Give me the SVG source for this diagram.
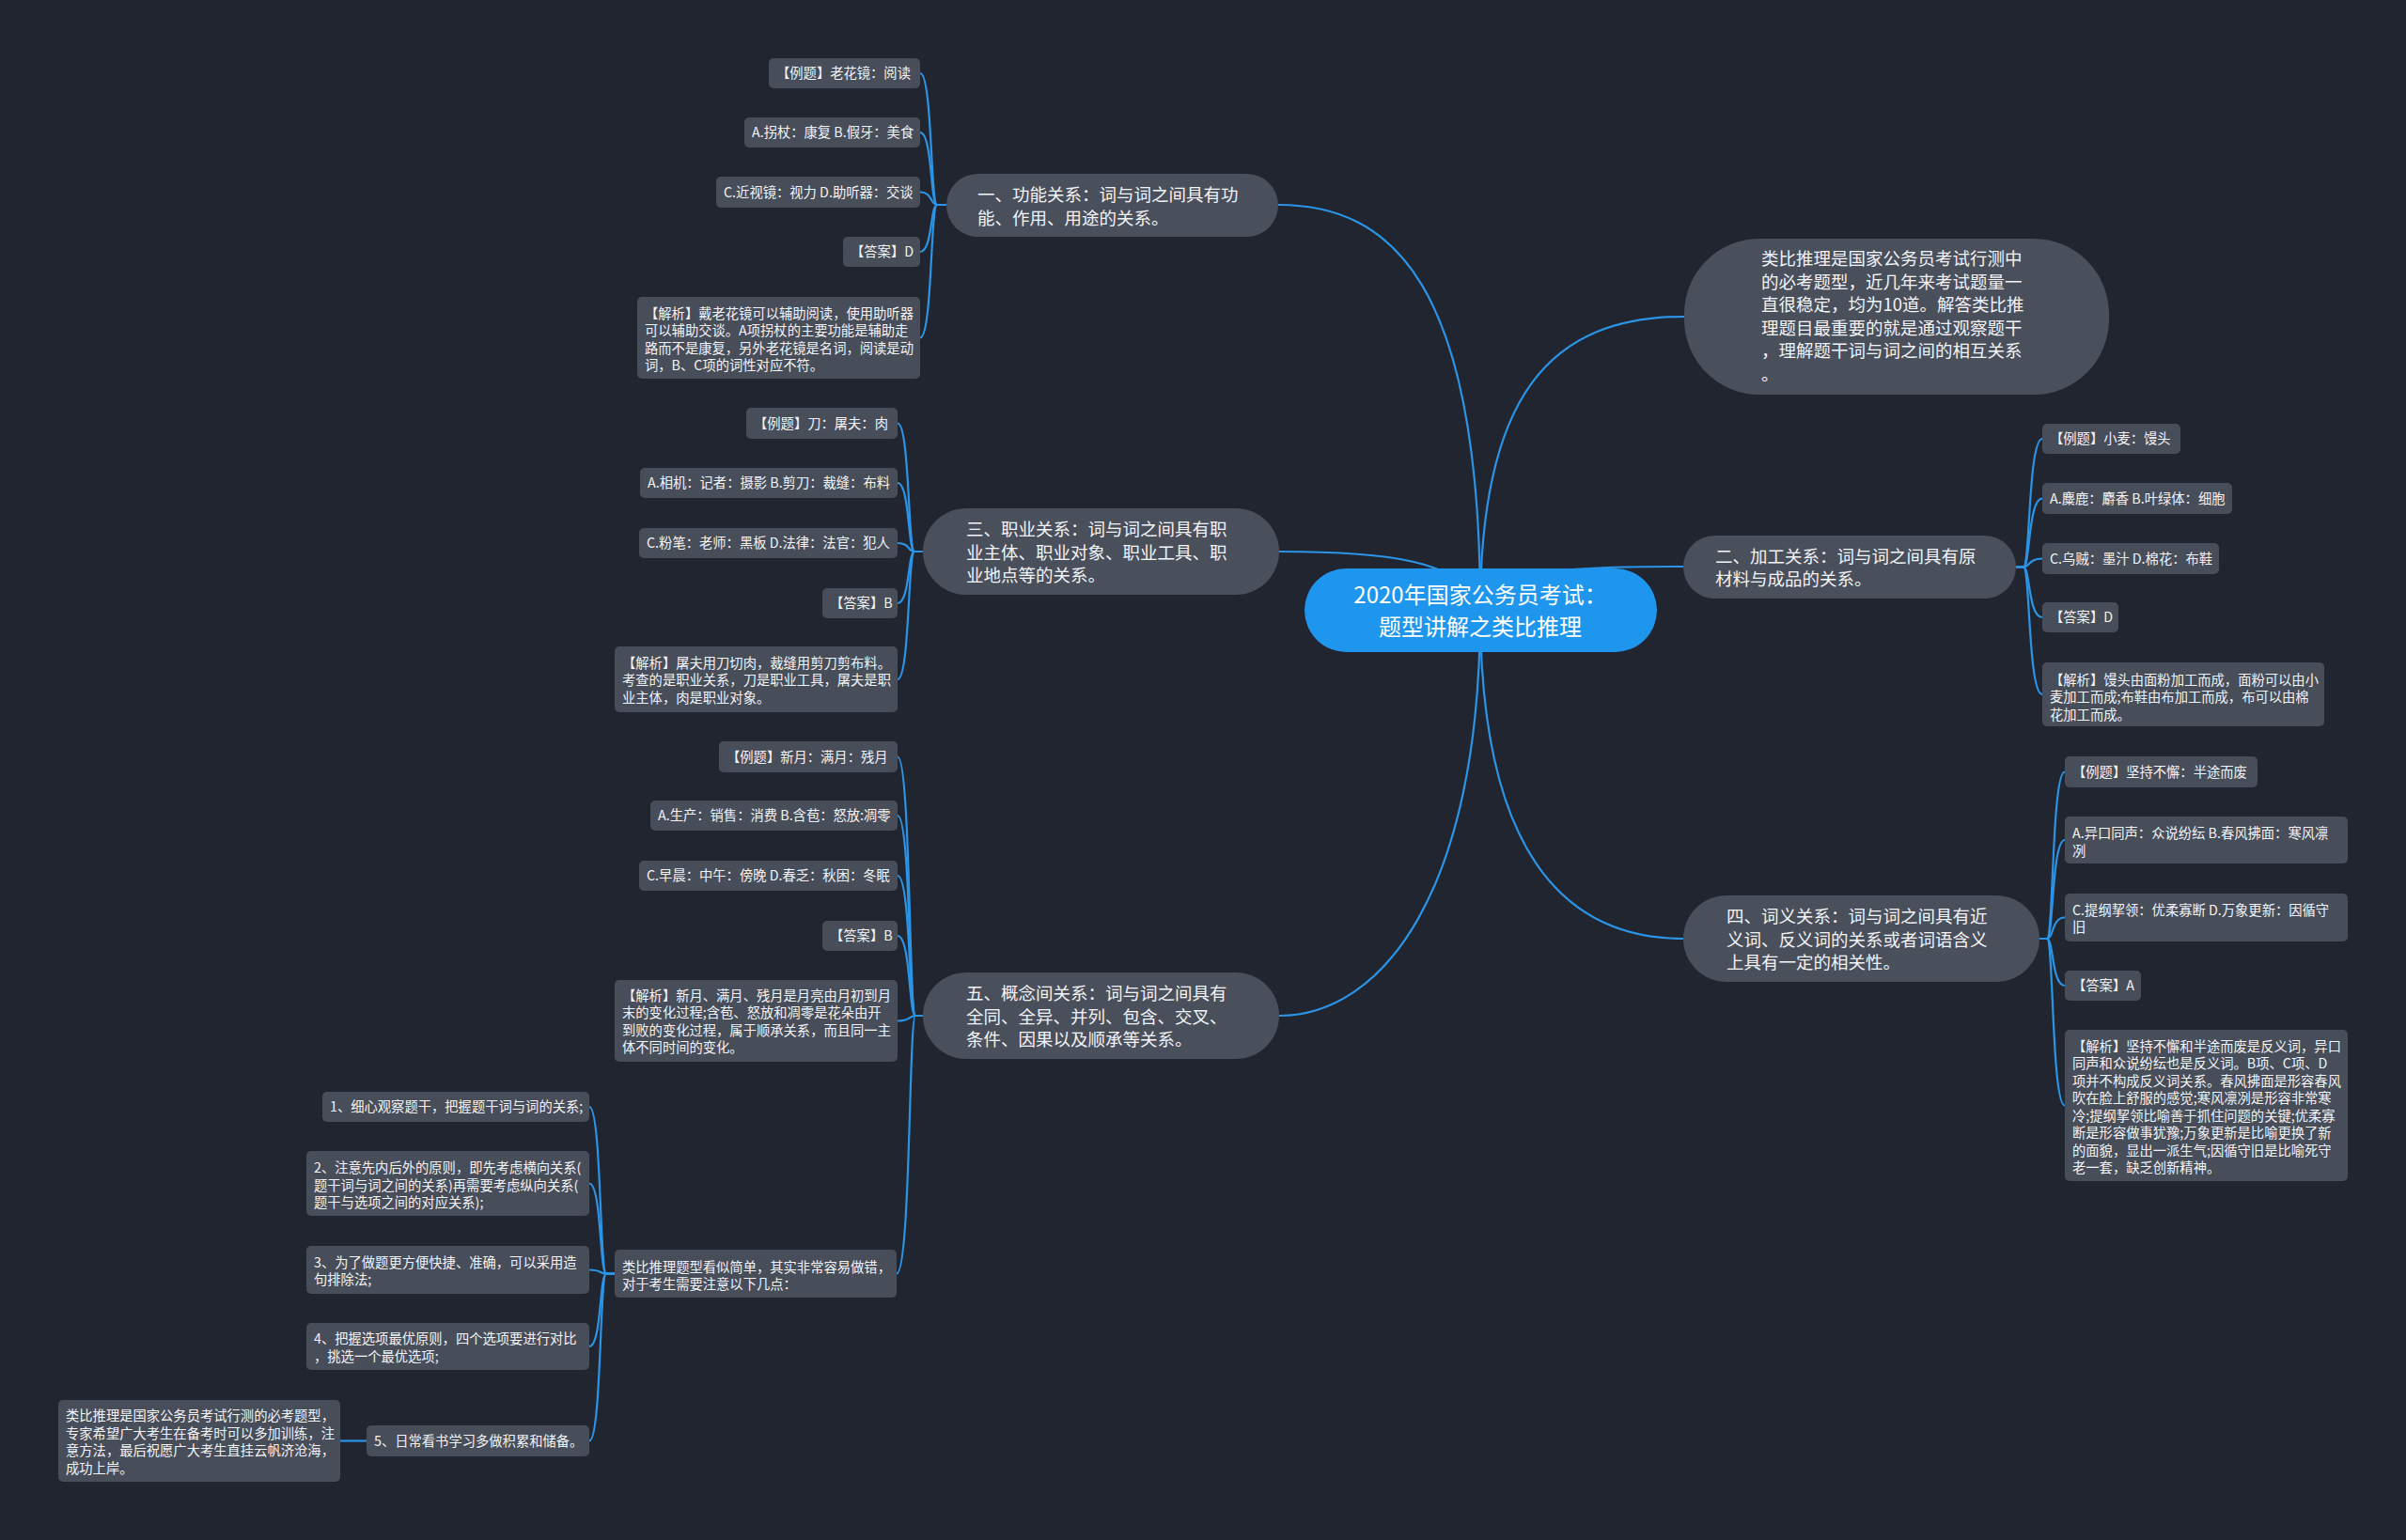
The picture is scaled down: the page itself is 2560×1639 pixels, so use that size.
<svg xmlns="http://www.w3.org/2000/svg" width="2560" height="1639" viewBox="0 0 2560 1639">
<style>
.n{fill:#4a4f5c}
.lf{fill:#484d5a}
.c{fill:none;stroke:#2b94e6;stroke-width:2.2}
text{font-family:"Noto Sans CJK SC","Noto Sans",sans-serif;fill:#f2f4f7}
.t{font-size:18.5px}
.l{font-size:14.3px}
.r{font-size:24px;text-anchor:middle;fill:#ffffff}
</style>
<rect width="2560" height="1639" fill="#21252f"/>
<g id="connectors">
<path class="c" d="M1360 218 C1480 218 1575 300 1575 649"/>
<path class="c" d="M1361 587 C1470 587 1560 595 1575 649"/>
<path class="c" d="M1361 1081 C1470 1081 1575 950 1575 649"/>
<path class="c" d="M1792 337 C1650 337 1575 420 1575 649"/>
<path class="c" d="M1792 603 C1680 603 1575 605 1575 649"/>
<path class="c" d="M1791 999 C1660 999 1575 900 1575 649"/>
<!-- group 1 -->
<path class="c" d="M1007 218 L997 218 C990 218 992 78 979 78"/>
<path class="c" d="M1007 218 L997 218 C990 218 992 141 979 141"/>
<path class="c" d="M1007 218 L997 218 C990 218 992 204.5 979 204.5"/>
<path class="c" d="M1007 218 L997 218 C990 218 992 268 979 268"/>
<path class="c" d="M1007 218 L997 218 C990 218 992 359.5 979 359.5"/>
<!-- group 3 -->
<path class="c" d="M982 587 L973 587 C966 587 968 450.5 955 450.5"/>
<path class="c" d="M982 587 L973 587 C966 587 968 514 955 514"/>
<path class="c" d="M982 587 L973 587 C966 587 968 578 955 578"/>
<path class="c" d="M982 587 L973 587 C966 587 968 642 955 642"/>
<path class="c" d="M982 587 L973 587 C966 587 968 723 955 723"/>
<!-- group 5 -->
<path class="c" d="M982 1081 L974 1081 C967 1081 969 805.5 955 805.5"/>
<path class="c" d="M982 1081 L974 1081 C967 1081 969 868 955 868"/>
<path class="c" d="M982 1081 L974 1081 C967 1081 969 932 955 932"/>
<path class="c" d="M982 1081 L974 1081 C967 1081 969 996 955 996"/>
<path class="c" d="M982 1081 L974 1081 C967 1081 969 1086.5 955 1086.5"/>
<path class="c" d="M982 1081 L974 1081 C967 1081 969 1355.5 954 1355.5"/>
<!-- subgroup -->
<path class="c" d="M654 1355.5 L645 1355.5 C638 1355.5 640 1178 627 1178"/>
<path class="c" d="M654 1355.5 L645 1355.5 C638 1355.5 640 1259.5 627 1259.5"/>
<path class="c" d="M654 1355.5 L645 1355.5 C638 1355.5 640 1351.5 627 1351.5"/>
<path class="c" d="M654 1355.5 L645 1355.5 C638 1355.5 640 1433 627 1433"/>
<path class="c" d="M654 1355.5 L645 1355.5 C638 1355.5 640 1533.5 627 1533.5"/>
<path class="c" d="M390 1533.5 L362 1533.5"/>
<!-- group 2 -->
<path class="c" d="M2145 603.5 L2153 603.5 C2160 603.5 2158 467 2173 467"/>
<path class="c" d="M2145 603.5 L2153 603.5 C2160 603.5 2158 530.5 2173 530.5"/>
<path class="c" d="M2145 603.5 L2153 603.5 C2160 603.5 2158 594.5 2173 594.5"/>
<path class="c" d="M2145 603.5 L2153 603.5 C2160 603.5 2158 657 2173 657"/>
<path class="c" d="M2145 603.5 L2153 603.5 C2160 603.5 2158 739 2173 739"/>
<!-- group 4 -->
<path class="c" d="M2170 999 L2178 999 C2185 999 2183 821.5 2197 821.5"/>
<path class="c" d="M2170 999 L2178 999 C2185 999 2183 894 2197 894"/>
<path class="c" d="M2170 999 L2178 999 C2185 999 2183 976.5 2197 976.5"/>
<path class="c" d="M2170 999 L2178 999 C2185 999 2183 1049 2197 1049"/>
<path class="c" d="M2170 999 L2178 999 C2185 999 2183 1176.5 2197 1176.5"/>
</g>

<g id="root">
<rect x="1388" y="605" width="375" height="89" rx="44.5" fill="#1e96ee"/>
<text class="r" x="1575" y="642">2020年国家公务员考试：</text>
<text class="r" x="1575" y="676">题型讲解之类比推理</text>
</g>

<g id="intro">
<rect class="n" x="1792" y="254" width="452" height="166" rx="80"/>
<text class="t" x="1874" y="282">类比推理是国家公务员考试行测中</text>
<text class="t" x="1874" y="306.5">的必考题型，近几年来考试题量一</text>
<text class="t" x="1874" y="331">直很稳定，均为10道。解答类比推</text>
<text class="t" x="1874" y="355.5">理题目最重要的就是通过观察题干</text>
<text class="t" x="1874" y="380">，理解题干词与词之间的相互关系</text>
<text class="t" x="1874" y="404.5">。</text>
</g>

<g id="n1">
<rect class="n" x="1007" y="185" width="353" height="67" rx="33.5"/>
<text class="t" x="1040" y="214">一、功能关系：词与词之间具有功</text>
<text class="t" x="1040" y="238.5">能、作用、用途的关系。</text>
</g>
<g id="n1-1"><rect class="lf" x="818" y="62" width="161" height="32" rx="5"/><text class="l" x="826" y="83">【例题】老花镜：阅读</text></g>
<g id="n1-2"><rect class="lf" x="792" y="125" width="187" height="32" rx="5"/><text class="l" x="800" y="146">A.拐杖：康复 B.假牙：美食</text></g>
<g id="n1-3"><rect class="lf" x="762" y="188" width="217" height="33" rx="5"/><text class="l" x="770" y="209.5">C.近视镜：视力 D.助听器：交谈</text></g>
<g id="n1-4"><rect class="lf" x="897" y="252" width="82" height="32" rx="5"/><text class="l" x="905" y="273">【答案】D</text></g>
<g id="n1-5"><rect class="lf" x="678" y="316" width="301" height="87" rx="5"/>
<text class="l" x="686" y="338.5">【解析】戴老花镜可以辅助阅读，使用助听器</text>
<text class="l" x="686" y="357">可以辅助交谈。A项拐杖的主要功能是辅助走</text>
<text class="l" x="686" y="375.5">路而不是康复，另外老花镜是名词，阅读是动</text>
<text class="l" x="686" y="394">词，B、C项的词性对应不符。</text></g>

<g id="n3">
<rect class="n" x="982" y="541" width="379" height="92" rx="46"/>
<text class="t" x="1028" y="570">三、职业关系：词与词之间具有职</text>
<text class="t" x="1028" y="595">业主体、职业对象、职业工具、职</text>
<text class="t" x="1028" y="619">业地点等的关系。</text>
</g>
<g id="n3-1"><rect class="lf" x="794" y="434" width="161" height="33" rx="5"/><text class="l" x="802" y="455.5">【例题】刀：屠夫：肉</text></g>
<g id="n3-2"><rect class="lf" x="681" y="498" width="274" height="32" rx="5"/><text class="l" x="689" y="519">A.相机：记者：摄影 B.剪刀：裁缝：布料</text></g>
<g id="n3-3"><rect class="lf" x="680" y="562" width="275" height="32" rx="5"/><text class="l" x="688" y="583">C.粉笔：老师：黑板 D.法律：法官：犯人</text></g>
<g id="n3-4"><rect class="lf" x="875" y="626" width="80" height="32" rx="5"/><text class="l" x="883" y="647">【答案】B</text></g>
<g id="n3-5"><rect class="lf" x="654" y="688" width="301" height="70" rx="5"/>
<text class="l" x="662" y="710.5">【解析】屠夫用刀切肉，裁缝用剪刀剪布料。</text>
<text class="l" x="662" y="729">考查的是职业关系，刀是职业工具，屠夫是职</text>
<text class="l" x="662" y="747.5">业主体，肉是职业对象。</text></g>

<g id="n5">
<rect class="n" x="982" y="1035" width="379" height="92" rx="46"/>
<text class="t" x="1028" y="1064">五、概念间关系：词与词之间具有</text>
<text class="t" x="1028" y="1089">全同、全异、并列、包含、交叉、</text>
<text class="t" x="1028" y="1113">条件、因果以及顺承等关系。</text>
</g>
<g id="n5-1"><rect class="lf" x="765" y="789" width="190" height="33" rx="5"/><text class="l" x="773" y="810.5">【例题】新月：满月：残月</text></g>
<g id="n5-2"><rect class="lf" x="692" y="852" width="263" height="32" rx="5"/><text class="l" x="700" y="873">A.生产：销售：消费 B.含苞：怒放:凋零</text></g>
<g id="n5-3"><rect class="lf" x="680" y="916" width="275" height="32" rx="5"/><text class="l" x="688" y="937">C.早晨：中午：傍晚 D.春乏：秋困：冬眠</text></g>
<g id="n5-4"><rect class="lf" x="875" y="980" width="80" height="32" rx="5"/><text class="l" x="883" y="1001">【答案】B</text></g>
<g id="n5-5"><rect class="lf" x="654" y="1043" width="301" height="87" rx="5"/>
<text class="l" x="662" y="1064.5">【解析】新月、满月、残月是月亮由月初到月</text>
<text class="l" x="662" y="1083">末的变化过程;含苞、怒放和凋零是花朵由开</text>
<text class="l" x="662" y="1101.5">到败的变化过程，属于顺承关系，而且同一主</text>
<text class="l" x="662" y="1120">体不同时间的变化。</text></g>
<g id="n5-6"><rect class="lf" x="654" y="1330" width="300" height="51" rx="5"/>
<text class="l" x="662" y="1353.5">类比推理题型看似简单，其实非常容易做错，</text>
<text class="l" x="662" y="1372">对于考生需要注意以下几点：</text></g>

<g id="s1"><rect class="lf" x="343" y="1162" width="284" height="32" rx="5"/><text class="l" x="351" y="1183">1、细心观察题干，把握题干词与词的关系;</text></g>
<g id="s2"><rect class="lf" x="326" y="1225" width="301" height="69" rx="5"/>
<text class="l" x="334" y="1248">2、注意先内后外的原则，即先考虑横向关系(</text>
<text class="l" x="334" y="1266.5">题干词与词之间的关系)再需要考虑纵向关系(</text>
<text class="l" x="334" y="1285">题干与选项之间的对应关系);</text></g>
<g id="s3"><rect class="lf" x="326" y="1326" width="301" height="51" rx="5"/>
<text class="l" x="334" y="1348.5">3、为了做题更方便快捷、准确，可以采用造</text>
<text class="l" x="334" y="1367">句排除法;</text></g>
<g id="s4"><rect class="lf" x="326" y="1408" width="301" height="50" rx="5"/>
<text class="l" x="334" y="1430">4、把握选项最优原则，四个选项要进行对比</text>
<text class="l" x="334" y="1448.5">，挑选一个最优选项;</text></g>
<g id="s5"><rect class="lf" x="390" y="1517" width="237" height="33" rx="5"/><text class="l" x="398" y="1538.5">5、日常看书学习多做积累和储备。</text></g>
<g id="s5-1"><rect class="lf" x="62" y="1490" width="300" height="87" rx="5"/>
<text class="l" x="70" y="1512">类比推理是国家公务员考试行测的必考题型，</text>
<text class="l" x="70" y="1530.5">专家希望广大考生在备考时可以多加训练，注</text>
<text class="l" x="70" y="1549">意方法，最后祝愿广大考生直挂云帆济沧海，</text>
<text class="l" x="70" y="1567.5">成功上岸。</text></g>

<g id="n2">
<rect class="n" x="1791" y="570" width="354" height="67" rx="33.5"/>
<text class="t" x="1825" y="599">二、加工关系：词与词之间具有原</text>
<text class="t" x="1825" y="623">材料与成品的关系。</text>
</g>
<g id="n2-1"><rect class="lf" x="2173" y="451" width="147" height="32" rx="5"/><text class="l" x="2181" y="472">【例题】小麦：馒头</text></g>
<g id="n2-2"><rect class="lf" x="2173" y="514" width="202" height="33" rx="5"/><text class="l" x="2181" y="535.5">A.麋鹿：麝香 B.叶绿体：细胞</text></g>
<g id="n2-3"><rect class="lf" x="2173" y="578" width="188" height="33" rx="5"/><text class="l" x="2181" y="599.5">C.乌贼：墨汁 D.棉花：布鞋</text></g>
<g id="n2-4"><rect class="lf" x="2173" y="641" width="81" height="32" rx="5"/><text class="l" x="2181" y="662">【答案】D</text></g>
<g id="n2-5"><rect class="lf" x="2173" y="705" width="300" height="68" rx="5"/>
<text class="l" x="2181" y="728.5">【解析】馒头由面粉加工而成，面粉可以由小</text>
<text class="l" x="2181" y="747">麦加工而成;布鞋由布加工而成，布可以由棉</text>
<text class="l" x="2181" y="765.5">花加工而成。</text></g>

<g id="n4">
<rect class="n" x="1791" y="953" width="379" height="92" rx="46"/>
<text class="t" x="1837" y="982">四、词义关系：词与词之间具有近</text>
<text class="t" x="1837" y="1007">义词、反义词的关系或者词语含义</text>
<text class="t" x="1837" y="1031">上具有一定的相关性。</text>
</g>
<g id="n4-1"><rect class="lf" x="2197" y="805" width="205" height="33" rx="5"/><text class="l" x="2205" y="826.5">【例题】坚持不懈：半途而废</text></g>
<g id="n4-2"><rect class="lf" x="2197" y="869" width="301" height="50" rx="5"/>
<text class="l" x="2205" y="892">A.异口同声：众说纷纭 B.春风拂面：寒风凛</text>
<text class="l" x="2205" y="910.5">冽</text></g>
<g id="n4-3"><rect class="lf" x="2197" y="951" width="301" height="51" rx="5"/>
<text class="l" x="2205" y="973.5">C.提纲挈领：优柔寡断 D.万象更新：因循守</text>
<text class="l" x="2205" y="992">旧</text></g>
<g id="n4-4"><rect class="lf" x="2197" y="1033" width="81" height="32" rx="5"/><text class="l" x="2205" y="1054">【答案】A</text></g>
<g id="n4-5"><rect class="lf" x="2197" y="1096" width="301" height="161" rx="5"/>
<text class="l" x="2205" y="1118.5">【解析】坚持不懈和半途而废是反义词，异口</text>
<text class="l" x="2205" y="1137">同声和众说纷纭也是反义词。B项、C项、D</text>
<text class="l" x="2205" y="1155.5">项并不构成反义词关系。春风拂面是形容春风</text>
<text class="l" x="2205" y="1174">吹在脸上舒服的感觉;寒风凛冽是形容非常寒</text>
<text class="l" x="2205" y="1192.5">冷;提纲挈领比喻善于抓住问题的关键;优柔寡</text>
<text class="l" x="2205" y="1211">断是形容做事犹豫;万象更新是比喻更换了新</text>
<text class="l" x="2205" y="1229.5">的面貌，显出一派生气;因循守旧是比喻死守</text>
<text class="l" x="2205" y="1248">老一套，缺乏创新精神。</text></g>
</svg>
